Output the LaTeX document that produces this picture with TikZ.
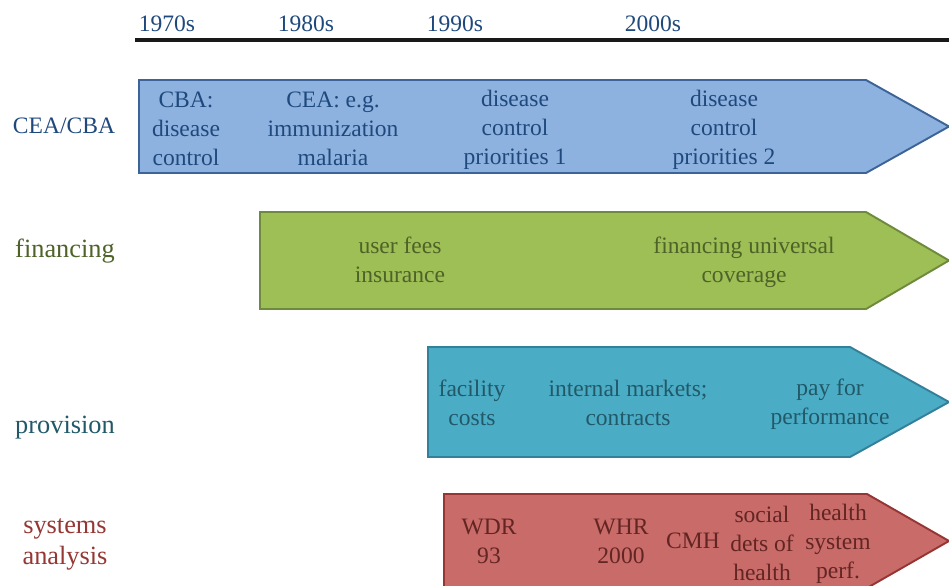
\documentclass[tikz,border=0pt]{standalone}
\usepackage{fontspec}
\setmainfont{Liberation Serif}
\definecolor{ceafill}{HTML}{8EB2DF}
\definecolor{ceaedge}{HTML}{3C6498}
\definecolor{ceatext}{HTML}{1F497D}
\definecolor{finfill}{HTML}{9DBF55}
\definecolor{finedge}{HTML}{6E8A3C}
\definecolor{fintext}{HTML}{4F6228}
\definecolor{provfill}{HTML}{4BACC6}
\definecolor{provedge}{HTML}{33809A}
\definecolor{provtext}{HTML}{215968}
\definecolor{sysfill}{HTML}{C86B69}
\definecolor{sysedge}{HTML}{963634}
\definecolor{systext}{HTML}{632523}
\definecolor{syslabel}{HTML}{953734}
\begin{document}
\begin{tikzpicture}[x=0.02cm, y=-0.02cm,
    every node/.style={inner sep=0pt, align=center, font=\fontsize{13.4}{16.5}\selectfont},
    rowlabel/.style={font=\fontsize{15}{17}\selectfont},
    band/.style={line width=1.1pt, line join=miter}]

   \clip (0,0) rectangle (949,585);

%Time axis
   \draw[line width=2.3pt, black!90] (135,40) -- (949,40);
   \node[ceatext] at (167, 24)  (yr70)   {1970s};
   \node[ceatext] at (306, 24)  (yr80)   {1980s};
   \node[ceatext] at (455, 24)  (yr90)   {1990s};
   \node[ceatext] at (653, 24)  (yr00)   {2000s};

%Bands
   \draw[band, fill=ceafill, draw=ceaedge]   (139,80) -- (866,80) -- (949,126.5) -- (866,173) -- (139,173) -- cycle;
   \draw[band, fill=finfill, draw=finedge]   (260,212) -- (866,212) -- (949,260.5) -- (866,309) -- (260,309) -- cycle;
   \draw[band, fill=provfill, draw=provedge] (428,347) -- (850,347) -- (949,402) -- (850,457) -- (428,457) -- cycle;
   \draw[band, fill=sysfill, draw=sysedge]   (444,494) -- (867,494) -- (949,541) -- (867,588) -- (444,588) -- cycle;

%Row labels
   \node[ceatext]  at (64, 126)  (lblcea)  {CEA/CBA};
   \node[rowlabel, fintext]  at (65, 251)  (lblfin)  {financing};
   \node[rowlabel, provtext] at (65, 428)  (lblprov) {provision};
   \node[rowlabel, syslabel, font=\fontsize{15}{17.5}\selectfont] at (65, 544.5)  (lblsys)  {systems\\analysis};

%CEA/CBA
   \node[ceatext] at (186, 128.5)  (cba)   {CBA:\\disease\\control};
   \node[ceatext] at (333, 128.5)  (cea)   {CEA: e.g.\\immunization\\malaria};
   \node[ceatext] at (515, 129.5)  (dcp1)  {disease\\control\\priorities 1};
   \node[ceatext] at (724, 129.5)  (dcp2)  {disease\\control\\priorities 2};

%financing
   \node[fintext] at (400, 260)    (fees)  {user fees\\insurance};
   \node[fintext] at (744, 262.5)  (univ)  {financing universal\\coverage};

%provision
   \node[provtext] at (472, 402.5)  (facil)   {facility\\costs};
   \node[provtext] at (628, 402.5)  (markets) {internal markets;\\contracts};
   \node[provtext] at (830, 404.5)  (payperf) {pay for\\performance};

%systems analysis
   \node[systext] at (489, 541.5)  (wdr)     {WDR\\93};
   \node[systext] at (621, 541.5)  (whr)     {WHR\\2000};
   \node[systext] at (693, 541)    (cmh)     {CMH};
   \node[systext] at (762, 543.5)  (socdets) {social\\dets of\\health};
   \node[systext] at (838, 543.5)  (hsperf)  {health\\system\\perf.};

\end{tikzpicture}
\end{document}
